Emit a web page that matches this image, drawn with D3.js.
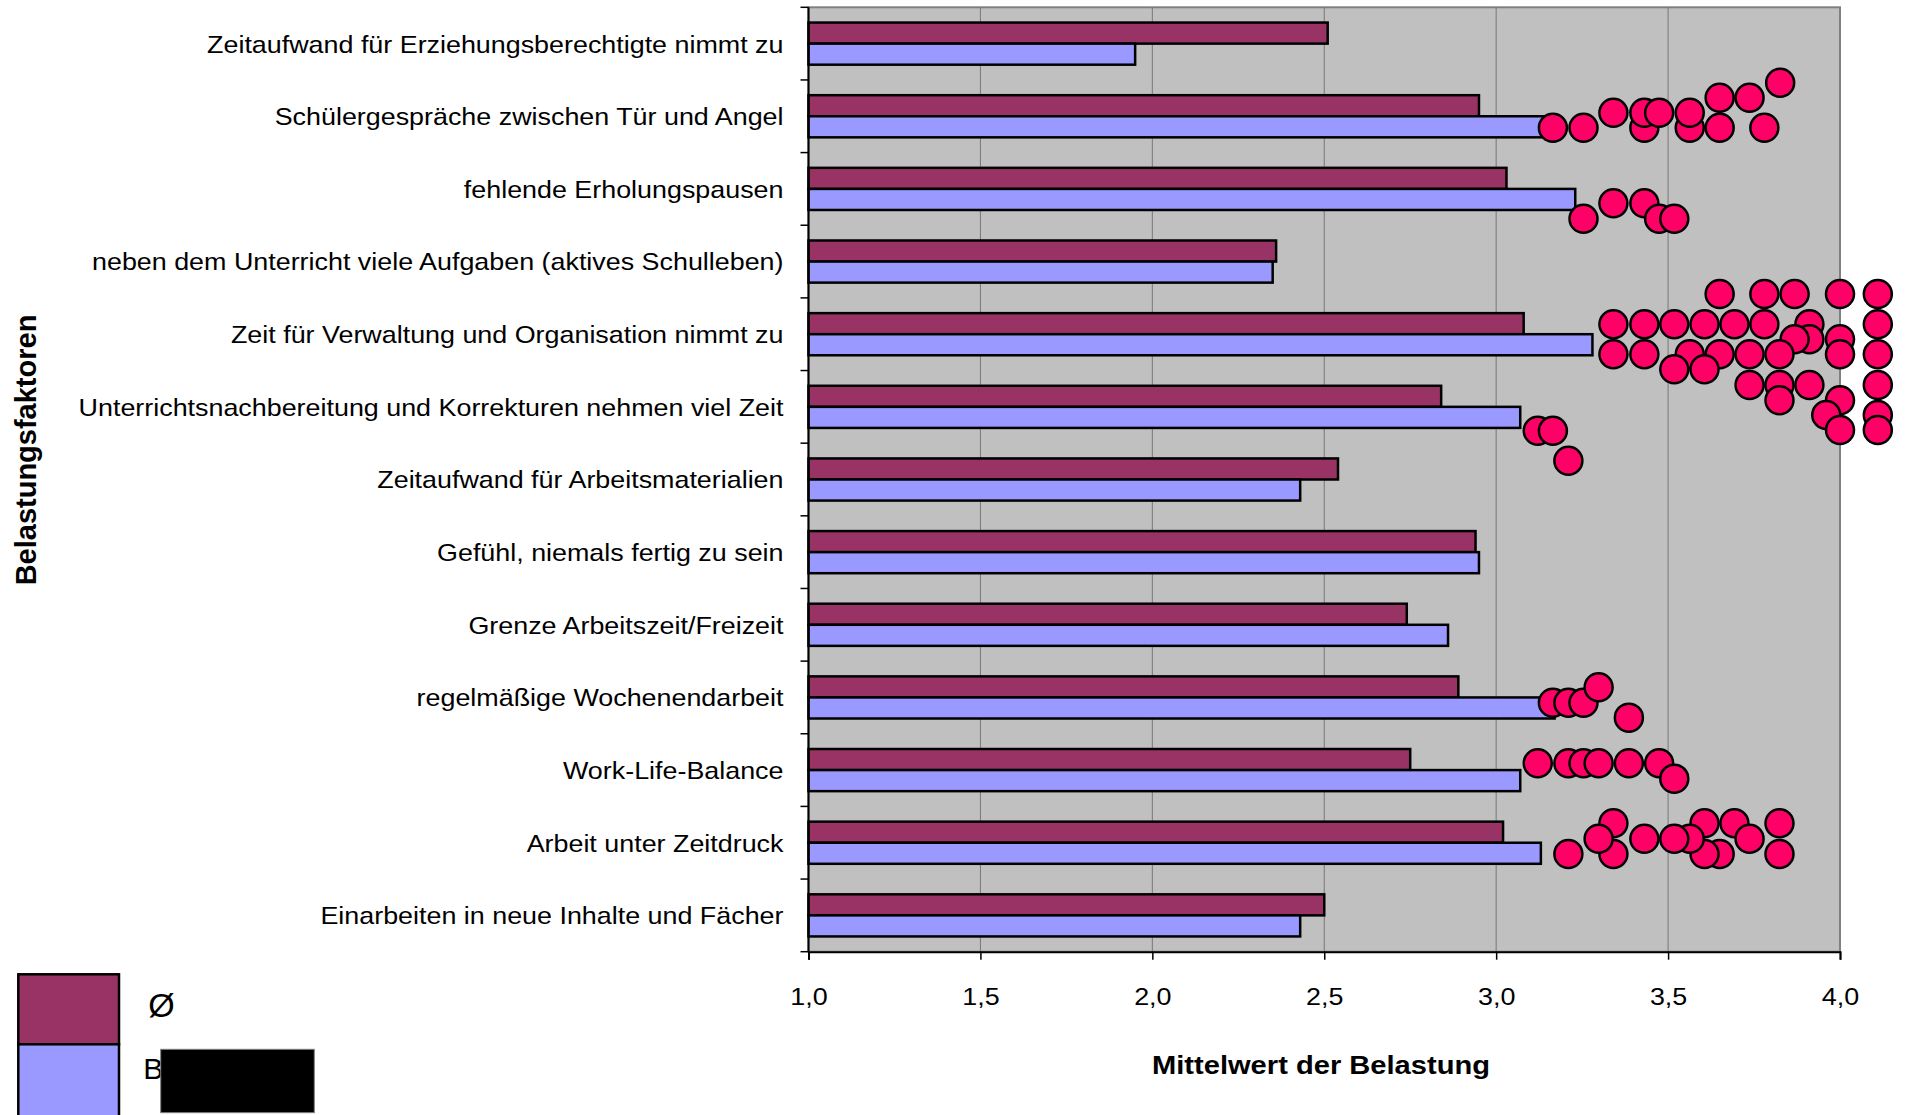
<!DOCTYPE html>
<html>
<head>
<meta charset="utf-8">
<script src="https://cdn.jsdelivr.net/npm/d3@7"></script>
<style>
  body { margin: 0; background: #fff; }
  text { font-family: "Liberation Sans", Arial, sans-serif; fill: #000; }
</style>
</head>
<body>
<div id="chart"></div>
<script>
//categories from top to bottom
var categories = [
  'Zeitaufwand für Erziehungsberechtigte nimmt zu',
  'Schülergespräche zwischen Tür und Angel',
  'fehlende Erholungspausen',
  'neben dem Unterricht viele Aufgaben (aktives Schulleben)',
  'Zeit für Verwaltung und Organisation nimmt zu',
  'Unterrichtsnachbereitung und Korrekturen nehmen viel Zeit',
  'Zeitaufwand für Arbeitsmaterialien',
  'Gefühl, niemals fertig zu sein',
  'Grenze Arbeitszeit/Freizeit',
  'regelmäßige Wochenendarbeit',
  'Work-Life-Balance',
  'Arbeit unter Zeitdruck',
  'Einarbeiten in neue Inhalte und Fächer'
];

var seriesNames = ['Ø', 'B'];
var avgValues = [2.51, 2.95, 3.03, 2.36, 3.08, 2.84, 2.54, 2.94, 2.74, 2.89, 2.75, 3.02, 2.50];
var bValues   = [1.95, 3.14, 3.23, 2.35, 3.28, 3.07, 2.43, 2.95, 2.86, 3.17, 3.07, 3.13, 2.43];

//single points: value and position on the category axis (0 = top edge, 13 = bottom edge)
var dotValues = [
  3.165, 3.254, 3.431, 3.563, 3.650, 3.780,
  3.341, 3.431, 3.474, 3.563,
  3.650, 3.737,
  3.826,
  3.341, 3.431,
  3.254, 3.474, 3.518,
  3.650, 3.780, 3.868, 4.000, 4.110,
  3.341, 3.431, 3.518, 3.606, 3.693, 3.780, 3.911, 4.110,
  3.911, 3.868, 4.000,
  3.341, 3.431, 3.563, 3.650, 3.737, 3.824, 4.000, 4.110,
  3.518, 3.606,
  3.737, 3.824, 3.911, 4.110,
  3.824, 4.000,
  3.960, 4.110,
  4.000, 4.110,
  3.121, 3.165,
  3.210,
  3.165, 3.210, 3.254,
  3.298,
  3.386,
  3.121, 3.210, 3.254, 3.298, 3.386, 3.474,
  3.518,
  3.824, 3.650, 3.606, 3.341, 3.210,
  3.824, 3.693, 3.606, 3.341,
  3.737, 3.563, 3.518, 3.431, 3.298
];
var dotRows = [
  1.657, 1.657, 1.657, 1.657, 1.657, 1.657,
  1.451, 1.451, 1.451, 1.451,
  1.244, 1.244,
  1.038,
  2.698, 2.698,
  2.910, 2.910, 2.910,
  3.946, 3.946, 3.946, 3.946, 3.946,
  4.363, 4.363, 4.363, 4.363, 4.363, 4.363, 4.363, 4.363,
  4.570, 4.570, 4.570,
  4.776, 4.776, 4.776, 4.776, 4.776, 4.776, 4.776, 4.776,
  4.983, 4.983,
  5.199, 5.199, 5.199, 5.199,
  5.408, 5.408,
  5.612, 5.612,
  5.819, 5.819,
  5.828, 5.828,
  6.241,
  9.572, 9.572, 9.572,
  9.360,
  9.778,
  10.406, 10.406, 10.406, 10.406, 10.406, 10.406,
  10.618,
  11.655, 11.655, 11.655, 11.655, 11.655,
  11.232, 11.232, 11.232, 11.232,
  11.444, 11.444, 11.444, 11.444, 11.444
];

var tickValues = [1, 1.5, 2, 2.5, 3, 3.5, 4];

var width = 1905;
var height = 1115;
var plotLeft = 808.5, plotRight = 1840, plotTop = 7.3, plotBottom = 951.7;

//text in the original is a bit wider than the font
var stretch = 'scale(1.12,1)';

var svg = d3.select('#chart')
  .append('svg')
  .attr('width', width)
  .attr('height', height);

var x = d3.scaleLinear().domain([1, 4]).range([plotLeft, plotRight]);

var y = d3.scaleBand()
  .domain(categories)
  .range([plotTop, plotBottom])
  .paddingInner(0.42)
  .paddingOuter(0.21);

var ySeries = d3.scaleBand().domain(seriesNames).range([0, y.bandwidth()]);

//continuous version of the category axis for the points and the boundary ticks
var yPos = d3.scaleLinear().domain([0, categories.length]).range([plotTop, plotBottom]);

var color = d3.scaleOrdinal().domain(seriesNames).range(['#993366', '#9999ff']);

var de = d3.formatLocale({ decimal: ',', thousands: '.', grouping: [3], currency: ['', ' €'] });

//plot area
svg.append('rect')
  .attr('x', plotLeft)
  .attr('y', plotTop)
  .attr('width', plotRight - plotLeft)
  .attr('height', plotBottom - plotTop)
  .attr('fill', '#c0c0c0')
  .attr('stroke', '#808080')
  .attr('stroke-width', 2);

//gridlines
svg.append('g')
  .selectAll('line')
  .data(tickValues.slice(1, -1))
  .enter()
  .append('line')
  .attr('x1', function(d) { return x(d); })
  .attr('x2', function(d) { return x(d); })
  .attr('y1', plotTop)
  .attr('y2', plotBottom)
  .attr('stroke', '#777')
  .attr('stroke-width', 1);

//bars
var rows = categories.map(function(c, i) {
  return { cat: c, values: [avgValues[i], bValues[i]] };
});

svg.append('g')
  .selectAll('g')
  .data(rows)
  .enter()
  .append('g')
  .attr('transform', function(d) { return 'translate(0,' + y(d.cat) + ')'; })
  .selectAll('rect')
  .data(function(d) {
    return d.values.map(function(v, j) { return { name: seriesNames[j], value: v }; });
  })
  .enter()
  .append('rect')
  .attr('x', x(1))
  .attr('y', function(d) { return ySeries(d.name); })
  .attr('width', function(d) { return x(d.value) - x(1); })
  .attr('height', ySeries.bandwidth())
  .attr('fill', function(d) { return color(d.name); })
  .attr('stroke', '#000')
  .attr('stroke-width', 2.5);

//x axis
var xAxis = svg.append('g')
  .attr('transform', 'translate(0,' + plotBottom + ')')
  .call(d3.axisBottom(x).tickValues(tickValues).tickFormat(de.format('.1f')).tickSize(8).tickPadding(28));

xAxis.attr('font-family', null);
xAxis.select('.domain').attr('stroke', '#000').attr('stroke-width', 2);
xAxis.selectAll('.tick line').attr('stroke', '#000').attr('stroke-width', 1.5);
xAxis.selectAll('.tick text')
  .attr('font-size', 24)
  .attr('transform', stretch);

//y axis with category labels
var yAxis = svg.append('g')
  .attr('transform', 'translate(' + plotLeft + ',0)')
  .call(d3.axisLeft(y).tickSize(0).tickPadding(25));

yAxis.attr('font-family', null);
yAxis.select('.domain').remove();
yAxis.selectAll('.tick text')
  .attr('x', 0)
  .attr('dy', '0.37em')
  .attr('font-size', 24)
  .attr('transform', 'translate(-25,0) ' + stretch);

svg.append('line')
  .attr('x1', plotLeft)
  .attr('x2', plotLeft)
  .attr('y1', plotTop)
  .attr('y2', plotBottom)
  .attr('stroke', '#000')
  .attr('stroke-width', 2);

//ticks between the categories
svg.append('g')
  .selectAll('line')
  .data(d3.range(categories.length + 1))
  .enter()
  .append('line')
  .attr('x1', plotLeft - 8)
  .attr('x2', plotLeft)
  .attr('y1', function(d) { return yPos(d); })
  .attr('y2', function(d) { return yPos(d); })
  .attr('stroke', '#000')
  .attr('stroke-width', 1.5);

//single points
svg.append('g')
  .selectAll('circle')
  .data(dotValues)
  .enter()
  .append('circle')
  .attr('cx', function(d) { return x(d); })
  .attr('cy', function(d, i) { return yPos(dotRows[i]); })
  .attr('r', 14)
  .attr('fill', '#ff0066')
  .attr('stroke', '#000')
  .attr('stroke-width', 2.5);

//axis titles
svg.append('text')
  .attr('transform', 'translate(1321,1073.5) ' + stretch)
  .attr('text-anchor', 'middle')
  .attr('font-size', 26)
  .attr('font-weight', 'bold')
  .text('Mittelwert der Belastung');

svg.append('text')
  .attr('transform', 'translate(36,450) rotate(-90)')
  .attr('text-anchor', 'middle')
  .attr('font-size', 29)
  .attr('font-weight', 'bold')
  .text('Belastungsfaktoren');

//legend
var legendY = d3.scaleBand().domain(seriesNames).range([974.3, 1114.3]);

var legend = svg.append('g')
  .selectAll('g')
  .data(seriesNames)
  .enter()
  .append('g')
  .attr('transform', function(d) { return 'translate(18.3,' + legendY(d) + ')'; });

legend.append('rect')
  .attr('width', 100.7)
  .attr('height', function(d, i) { return i === 0 ? legendY.bandwidth() : legendY.bandwidth() + 4; })
  .attr('fill', function(d) { return color(d); })
  .attr('stroke', '#000')
  .attr('stroke-width', 2.5);

legend.append('text')
  .attr('x', function(d, i) { return i === 0 ? 130 : 125; })
  .attr('y', function(d, i) { return i === 0 ? 43 : 35; })
  .attr('font-size', function(d, i) { return i === 0 ? 34 : 30; })
  .text(function(d) { return d; });

//blacked out part of the second legend entry
svg.append('rect')
  .attr('x', 160.7)
  .attr('y', 1049.3)
  .attr('width', 153.6)
  .attr('height', 63.4)
  .attr('fill', '#000')
  .attr('stroke', '#808080')
  .attr('stroke-width', 1);
</script>
</body>
</html>
